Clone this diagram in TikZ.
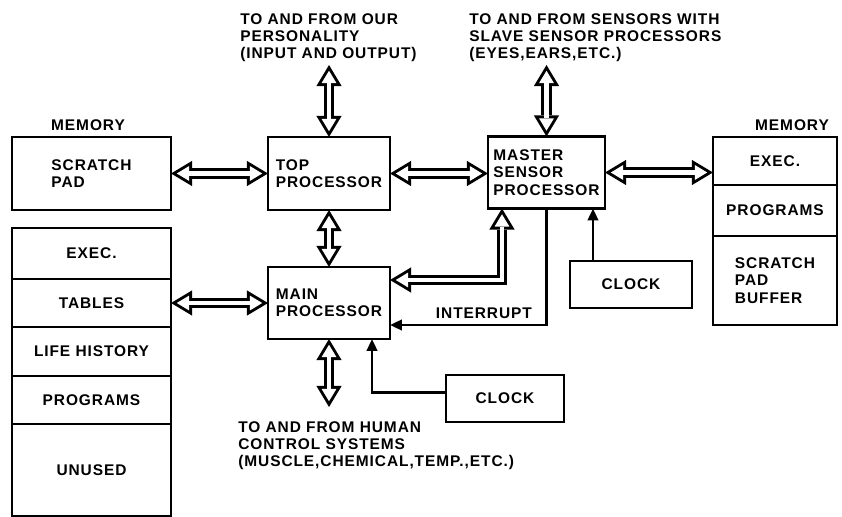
\documentclass[tikz,border=0pt]{standalone}
\usepackage{fontspec}
\setmainfont{Liberation Sans}[LetterSpace=6.0]
\usepackage{tikz}
\usetikzlibrary{arrows.meta,positioning,calc}
\newcommand{\dbus}[1]{\draw[bus] #1; \draw[businner] #1;}

\begin{document}
\begin{tikzpicture}[x=0.025cm,y=-0.025cm,
  font=\fontsize{11pt}{12.4pt}\selectfont\bfseries,
  box/.style={draw,line width=1.8pt,outer sep=0pt,inner sep=2pt,align=left},
  cell/.style={box,minimum width=3.975cm},
  rcell/.style={box,minimum width=3.1cm},
  lab/.style={align=left,inner sep=0pt,anchor=north west},
  bus/.style={line width=7.5pt,
    {Triangle[width=18pt,length=15pt,line width=0pt]}-{Triangle[width=18pt,length=15pt,line width=0pt]}},
  businner/.style={white,line width=3.3pt,shorten <=4.1pt,shorten >=4.1pt,
    {Triangle[width=10.6pt,length=8.8pt,line width=0pt]}-{Triangle[width=10.6pt,length=8.8pt,line width=0pt]}},
  sig/.style={line width=1.8pt,-{Triangle[width=7.5pt,length=8.5pt]}}]
  \useasboundingbox (0,0) rectangle (842,517);
  % left memory
  \node (memL) at (88,125) {MEMORY};
  \node[box,minimum width=3.975cm,minimum height=1.825cm] (scratch) at (91.5,173.5) {SCRATCH\\PAD};
  \node[cell,minimum height=1.275cm] (lexec) at (91.5,253.5) {EXEC.};
  \node[cell,minimum height=1.2cm,below=0pt of lexec] (tables) {TABLES};
  \node[cell,minimum height=1.225cm,below=0pt of tables] (life) {LIFE HISTORY};
  \node[cell,minimum height=1.2cm,below=0pt of life] (lprog) {PROGRAMS};
  \node[cell,minimum height=2.3cm,below=0pt of lprog] (unused) {UNUSED};
  % processors
  \node[box,minimum width=3.05cm,minimum height=1.825cm] (top) at (329,173.5) {TOP\\PROCESSOR};
  \node[box,minimum width=2.925cm,minimum height=1.8cm] (master) at (546.5,172.5) {MASTER\\SENSOR\\PROCESSOR};
  \node[box,minimum width=3.05cm,minimum height=1.8cm] (main) at (329,303) {MAIN\\PROCESSOR};
  \node[box,minimum width=3.05cm,minimum height=1.175cm] (clockA) at (631,284.5) {CLOCK};
  \node[box,minimum width=2.95cm,minimum height=1.175cm] (clockB) at (505,398.5) {CLOCK};
  % right memory
  \node (memR) at (792,125) {MEMORY};
  \node[rcell,minimum height=1.2cm] (rexec) at (775,161) {EXEC.};
  \node[rcell,minimum height=1.275cm,below=0pt of rexec] (rprog) {PROGRAMS};
  \node[rcell,minimum height=2.225cm,below=0pt of rprog] (rscr) {SCRATCH\\PAD\\BUFFER};
  % outside texts
  \node[lab] (persLbl) at (240,13) {TO AND FROM OUR\\PERSONALITY\\(INPUT AND OUTPUT)};
  \node[lab] (sensLbl) at (469,13) {TO AND FROM SENSORS WITH\\SLAVE SENSOR PROCESSORS\\(EYES,EARS,ETC.)};
  \node[lab] (humLbl) at (238,421) {TO AND FROM HUMAN\\CONTROL SYSTEMS\\(MUSCLE,CHEMICAL,TEMP.,ETC.)};
  \coordinate (persEnd) at (329,65);
  \coordinate (sensEnd) at (546.5,65);
  \coordinate (humEnd) at (329,407);
  % buses
  \dbus{(scratch.east) -- (scratch.east -| top.west)}
  \dbus{(top.east) -- (top.east -| master.west)}
  \dbus{(master.east) -- (master.east -| rexec.west)}
  \dbus{(top.north) -- (persEnd)}
  \dbus{(master.north) -- (sensEnd)}
  \dbus{(top.south) -- (main.north)}
  \dbus{(tables.east) -- (tables.east -| main.west)}
  \dbus{(main.south) -- (humEnd)}
  \dbus{($(master.south west)+(14,0)$) |- ($(main.east)+(0,-23)$)}
  % signals
  \draw[sig] (master.south) |- node[above,pos=0.7] {INTERRUPT} ($(main.east)+(0,22)$);
  \draw[sig] ([xshift=-0.95cm]clockA.north) -- ([xshift=-0.95cm]clockA.north |- master.south);
  \draw[sig] ([yshift=0.15cm]clockB.west) -| ([xshift=1.075cm]main.south);
\end{tikzpicture}
\end{document}
